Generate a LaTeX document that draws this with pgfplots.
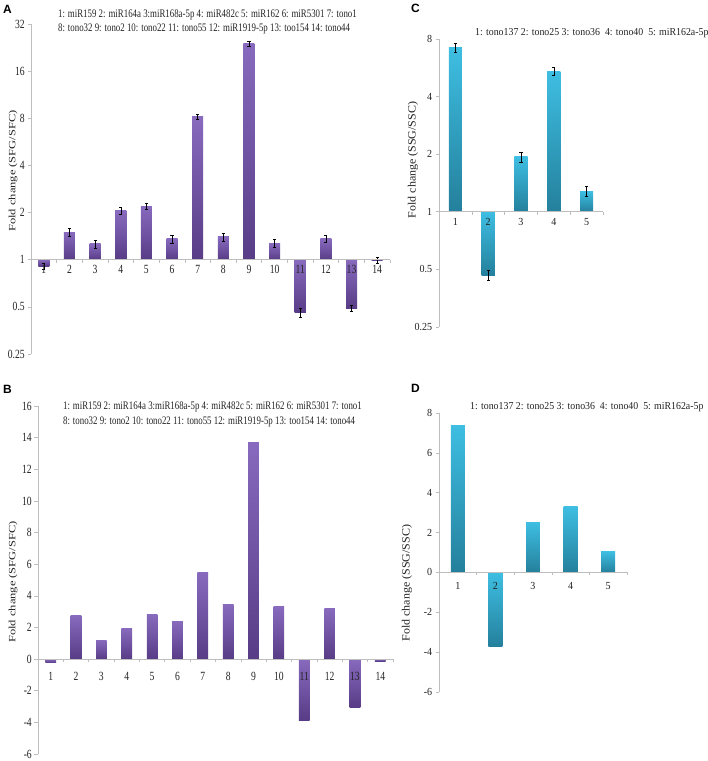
\documentclass[border=0pt]{standalone}
\usepackage{fontspec}
\setmainfont{Liberation Serif}
\newfontfamily\sansb{Liberation Sans}
\usepackage{pgfplots}
\usepackage{pgfplotstable}
\pgfplotsset{compat=1.18}

\definecolor{purpTop}{RGB}{136,106,190}
\definecolor{purpBot}{RGB}{88,60,134}
\definecolor{cyanTop}{RGB}{62,190,226}
\definecolor{cyanBot}{RGB}{36,128,156}
\definecolor{axgray}{RGB}{190,190,190}
\definecolor{txt}{RGB}{35,35,35}

\pgfplotstableread{
x y e
1 0.91 0.05
2 1.50 0.06
3 1.26 0.06
4 2.05 0.05
5 2.20 0.05
6 1.36 0.06
7 8.20 0.04
8 1.40 0.06
9 24.0 0.04
10 1.27 0.06
11 0.46 0.06
12 1.36 0.05
13 0.49 0.05
14 0.995 0.05
}\dataA

\pgfplotstableread{
x y
1 -0.23
2 2.78
3 1.20
4 1.96
5 2.85
6 2.40
7 5.50
8 3.46
9 13.70
10 3.31
11 -3.86
12 3.20
13 -3.04
14 -0.13
}\dataB

\pgfplotstableread{
x y e
1 7.20 0.05
2 0.467 0.065
3 1.94 0.06
4 5.42 0.045
5 1.28 0.06
}\dataC

\pgfplotstableread{
x y
1 7.38
2 -3.74
3 2.52
4 3.29
5 1.04
}\dataD

\pgfplotsset{
  panel/.style={
    scale only axis,
    axis on top,
    axis x line*=middle,
    axis y line*=left,
    axis line style={axgray, line width=0.7pt},
    tick align=outside,
    major tick length=3.5pt,
    minor tick length=3pt,
    major y tick style={axgray, line width=0.6pt},
    major x tick style={draw=none},
    minor x tick style={axgray, line width=0.6pt},
    /pgf/number format/assume math mode=true,
    clip=false,
  },
  leftfont/.style={ticklabel style={font=\fontsize{12.5}{14}\selectfont, text=txt, xscale=0.77}},
  rightfont/.style={ticklabel style={font=\fontsize{10.8}{13}\selectfont, text=txt, xscale=0.93}},
  onebar/.style 2 args={ybar, bar width=#1, bar shift=0pt, draw=none, forget plot,
    x filter/.expression={abs(x-#2)<0.1 ? x : nan}},
  purp/.style={top color=purpTop, bottom color=purpBot},
  cyanb/.style={top color=cyanTop, bottom color=cyanBot},
  errs/.style={draw=none, mark=none, forget plot,
    error bars/.cd, y dir=both, y explicit relative,
    error bar style={draw=black, line width=0.45pt},
    error mark options={draw=black, rotate=90, mark size=1.6pt, line width=0.45pt}},
}

\begin{document}
\begin{tikzpicture}
\useasboundingbox (0,0) rectangle (708pt,761pt);

% ---------------- Panel A ----------------
\begin{axis}[panel, leftfont,
  at={(31pt,737pt)}, anchor=north west,
  width=359pt, height=330pt,
  ymode=log, log basis y=2,
  xmin=0.5, xmax=14.5, ymin=0.25, ymax=32,
  xtick={1,...,14}, minor xtick={0.5,1.5,...,14.5},
  ytick={0.25,0.5,1,2,4,8,16,32},
  yticklabels={0.25,0.5,1,2,4,8,16,32},
  xticklabel style={yshift=1.5pt},
]
\pgfplotsinvokeforeach{1,...,14}{
  \addplot[onebar={0.43}{#1}, purp] table[x=x,y=y] {\dataA};
}
\addplot[errs] table[x=x,y=y,y error=e] {\dataA};
\end{axis}

% ---------------- Panel B ----------------
\begin{axis}[panel, leftfont,
  at={(38pt,355pt)}, anchor=north west,
  width=355pt, height=348pt,
  xmin=0.5, xmax=14.5, ymin=-6, ymax=16,
  xtick={1,...,14}, minor xtick={0.5,1.5,...,14.5},
  ytick={-6,-4,...,16},
  xticklabel style={yshift=-6pt},
]
\pgfplotsinvokeforeach{1,...,14}{
  \addplot[onebar={0.42}{#1}, purp] table[x=x,y=y] {\dataB};
}
\end{axis}

% ---------------- Panel C ----------------
\begin{axis}[panel, rightfont,
  at={(439pt,722pt)}, anchor=north west,
  width=164pt, height=288pt,
  ymode=log, log basis y=2,
  xmin=0.5, xmax=5.5, ymin=0.25, ymax=8,
  xtick={1,...,5}, minor xtick={0.5,1.5,...,5.5},
  ytick={0.25,0.5,1,2,4,8},
  yticklabels={0.25,0.5,1,2,4,8},
]
\pgfplotsinvokeforeach{1,...,5}{
  \addplot[onebar={0.40}{#1}, cyanb] table[x=x,y=y] {\dataC};
}
\addplot[errs] table[x=x,y=y,y error=e] {\dataC};
\end{axis}

% ---------------- Panel D ----------------
\begin{axis}[panel, rightfont,
  at={(439pt,348pt)}, anchor=north west,
  width=188pt, height=279pt,
  xmin=0.5, xmax=5.5, ymin=-6, ymax=8,
  xtick={1,...,5}, minor xtick={0.5,1.5,...,5.5},
  ytick={-6,-4,...,8},
  xticklabel style={yshift=-3pt},
]
\pgfplotsinvokeforeach{1,...,5}{
  \addplot[onebar={0.37}{#1}, cyanb] table[x=x,y=y] {\dataD};
}
\end{axis}

% ---------------- texts ----------------
\begin{scope}[every node/.style={inner sep=0pt, text=txt}]
\node[anchor=west, xscale=0.77, font=\fontsize{11.5}{13}\selectfont] at (58pt,746pt) {1: miR159 2: miR164a 3:miR168a-5p 4: miR482c 5: miR162 6: miR5301 7: tono1};
\node[anchor=west, xscale=0.77, font=\fontsize{11.5}{13}\selectfont] at (58pt,732pt) {8: tono32 9: tono2 10: tono22 11: tono55 12: miR1919-5p 13: too154 14: tono44};
\node[anchor=west, xscale=0.77, font=\fontsize{11.5}{13}\selectfont] at (63pt,354pt) {1: miR159 2: miR164a 3:miR168a-5p 4: miR482c 5: miR162 6: miR5301 7: tono1};
\node[anchor=west, xscale=0.77, font=\fontsize{11.5}{13}\selectfont] at (63pt,339pt) {8: tono32 9: tono2 10: tono22 11: tono55 12: miR1919-5p 13: too154 14: tono44};
\node[anchor=west, xscale=0.93, font=\fontsize{10.6}{12}\selectfont] at (475pt,728pt) {1: tono137 2: tono25 3: tono36\ \ 4: tono40\ \ 5: miR162a-5p};
\node[anchor=west, xscale=0.93, font=\fontsize{10.6}{12}\selectfont] at (470pt,354pt) {1: tono137 2: tono25 3: tono36\ \ 4: tono40\ \ 5: miR162a-5p};

\node[font=\sansb\bfseries\fontsize{12}{14}\selectfont, text=black] at (7.5pt,752pt) {A};
\node[font=\sansb\bfseries\fontsize{12}{14}\selectfont, text=black] at (7.5pt,372pt) {B};
\node[font=\sansb\bfseries\fontsize{12}{14}\selectfont, text=black] at (415.5pt,753pt) {C};
\node[font=\sansb\bfseries\fontsize{12}{14}\selectfont, text=black] at (415.5pt,372.5pt) {D};

\node[rotate=90, yscale=0.77, font=\fontsize{12.5}{14}\selectfont] at (13pt,590pt) {Fold change (SFG/SFC)};
\node[rotate=90, yscale=0.77, font=\fontsize{12.5}{14}\selectfont] at (13pt,179pt) {Fold change (SFG/SFC)};
\node[rotate=90, yscale=0.93, font=\fontsize{12}{14}\selectfont] at (413pt,601pt) {Fold change (SSG/SSC)};
\node[rotate=90, yscale=0.93, font=\fontsize{12}{14}\selectfont] at (407pt,178pt) {Fold change (SSG/SSC)};
\end{scope}
\end{tikzpicture}
\end{document}
